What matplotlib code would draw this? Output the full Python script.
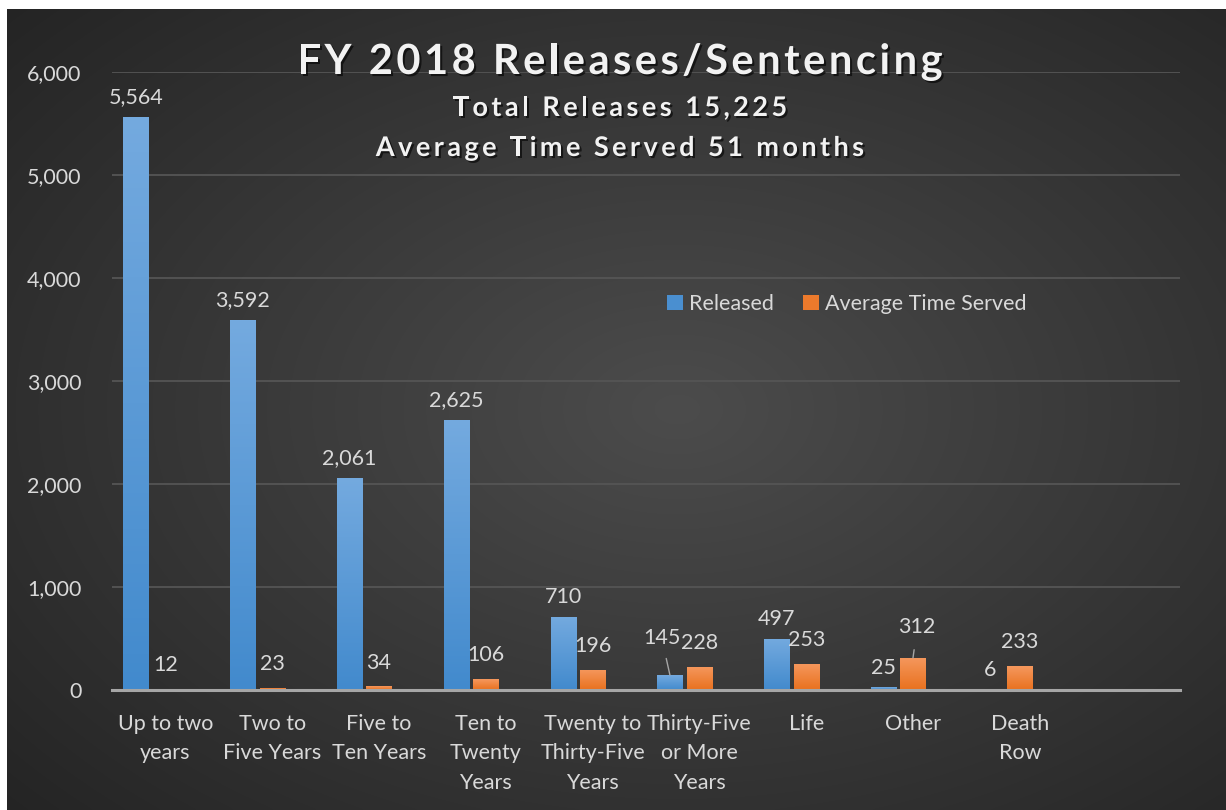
import numpy as np
import matplotlib
matplotlib.use('Agg')
from matplotlib import pyplot as plt
from matplotlib import patheffects as pe

# Данные с графика
categories = ['Up to two\nyears', 'Two to\nFive Years', 'Five to\nTen Years',
              'Ten to\nTwenty\nYears', 'Twenty to\nThirty-Five\nYears',
              'Thirty-Five\nor More\nYears', 'Life', 'Other', 'Death\nRow', '']
released = [5564, 3592, 2061, 2625, 710, 145, 497, 25, 6]
avg_time_served = [12, 23, 34, 106, 196, 228, 253, 312, 233]
y_ticks = [0, 1000, 2000, 3000, 4000, 5000, 6000]

plt.rcParams['font.family'] = ['Lato', 'DejaVu Sans']
text_col = '#d9d9d9'
W, H = 1226, 810

fig = plt.figure(figsize=(W / 100, H / 100), dpi=100)
fig.patch.set_facecolor('white')

# Тёмный фон с радиальным градиентом
bg = fig.add_axes([7 / W, 0, 1 - 7 / W, 801 / H], zorder=-1)
yy, xx = np.mgrid[0:1:400j, 0:1:600j]
r = np.sqrt(((xx - 0.55) / 0.75) ** 2 + ((yy - 0.5) / 0.75) ** 2)
r = np.clip(r, 0, 1)
c_in = np.array([0x4c, 0x4c, 0x4c]) / 255
c_out = np.array([0x24, 0x24, 0x24]) / 255
img = c_in[None, None, :] * (1 - r[..., None]) + c_out[None, None, :] * r[..., None]
bg.imshow(img, aspect='auto', interpolation='bicubic')
bg.axis('off')

ax = fig.add_axes([112 / W, 1 - 690 / H, (1180 - 112) / W, 618 / H])
ax.set_facecolor('none')

x = np.arange(len(released))
pitch = 0.276
width = 0.235
bars_rel = ax.bar(x - pitch, released, width, color='#4a8fd0', label='Released', zorder=2)
bars_avg = ax.bar(x, avg_time_served, width, color='#ec7a2c', label='Average Time Served', zorder=2)


def gradient_fill(bars, top, bottom):
    t = np.linspace(0, 1, 128)[:, None, None]
    top = np.array(top) / 255
    bottom = np.array(bottom) / 255
    grad = top * (1 - t) + bottom * t
    for b in bars:
        x0, y0 = b.get_x(), b.get_y()
        im = ax.imshow(grad, extent=[x0, x0 + b.get_width(), y0, y0 + b.get_height()],
                       aspect='auto', origin='upper', zorder=2.1)
        im.set_clip_path(b)


gradient_fill(bars_rel, (116, 170, 223), (66, 138, 205))
gradient_fill(bars_avg, (245, 152, 94), (233, 113, 30))

fs = 15.5
ax.set_xlim(-0.5, len(categories) - 0.5)
ax.set_ylim(0, 6000)
ax.set_yticks(y_ticks)
ax.set_yticklabels([f'{v:,}' for v in y_ticks])
ax.set_xticks(np.arange(len(categories)))
ax.set_xticklabels(categories, linespacing=1.6, va='top')
ax.tick_params(axis='both', length=0, colors=text_col, labelsize=fs)
ax.tick_params(axis='y', pad=22)
ax.tick_params(axis='x', pad=17)
ax.grid(axis='y', color='#555555', lw=1.3, zorder=0)
ax.set_axisbelow(True)
for s in ['top', 'right', 'left']:
    ax.spines[s].set_visible(False)
ax.spines['bottom'].set_color('#a6a6a6')
ax.spines['bottom'].set_linewidth(2.2)
ax.spines['bottom'].set_zorder(3)

# Подписи значений
for b, v in zip(bars_rel, released):
    cx = b.get_x() + b.get_width() / 2
    if v == 145:
        ax.annotate(f'{v:,}', (cx, v), xytext=(-6, 27), textcoords='offset points',
                    ha='center', va='center', color=text_col, fontsize=fs,
                    arrowprops=dict(arrowstyle='-', color='#a6a6a6', lw=1, shrinkA=6, shrinkB=0))
    else:
        ax.annotate(f'{v:,}', (cx, v), xytext=(0, 14), textcoords='offset points',
                    ha='center', va='center', color=text_col, fontsize=fs)

for b, v in zip(bars_avg, avg_time_served):
    cx = b.get_x() + b.get_width() / 2
    if v == 312:
        ax.annotate(f'{v:,}', (cx, v), xytext=(3, 22), textcoords='offset points',
                    ha='center', va='center', color=text_col, fontsize=fs,
                    arrowprops=dict(arrowstyle='-', color='#a6a6a6', lw=1, shrinkA=7, shrinkB=0))
    else:
        ax.annotate(f'{v:,}', (cx, v), xytext=(0, 17), textcoords='offset points',
                    ha='center', va='center', color=text_col, fontsize=fs)

leg = ax.legend(loc='center left', bbox_to_anchor=(0.51, 0.625), ncol=2, frameon=False,
                fontsize=fs, handlelength=0.72, handleheight=0.72, handletextpad=0.3,
                columnspacing=1.35, borderpad=0)
for t in leg.get_texts():
    t.set_color(text_col)

# Заголовки с разрядкой букв
shadow = [pe.withSimplePatchShadow(offset=(1.5, -1.5), shadow_rgbFace='black', alpha=0.6)]
renderer = fig.canvas.get_renderer()


def tracked_text(cx, cy, s, size, track):
    def w(txt):
        t = fig.text(0, 0, txt, fontsize=size, fontweight='bold')
        ww = t.get_window_extent(renderer).width
        t.remove()
        return ww
    base = w('aa')
    widths = [w('a' + ch + 'a') - base for ch in s]
    total = sum(widths) + track * (len(s) - 1)
    xp = cx - total / 2
    for ch, cw in zip(s, widths):
        if ch != ' ':
            fig.text(xp / W, 1 - cy / H, ch, ha='left', va='center', fontsize=size,
                     fontweight='bold', color='#f2f2f2', path_effects=shadow)
        xp += cw + track


tracked_text(620, 62, 'FY 2018 Releases/Sentencing', 30, 3.5)
tracked_text(620, 108, 'Total Releases 15,225', 19.5, 3.4)
tracked_text(620, 148, 'Average Time Served 51 months', 19.5, 3.4)

fig.savefig('out.png', dpi=100, facecolor=fig.get_facecolor())
